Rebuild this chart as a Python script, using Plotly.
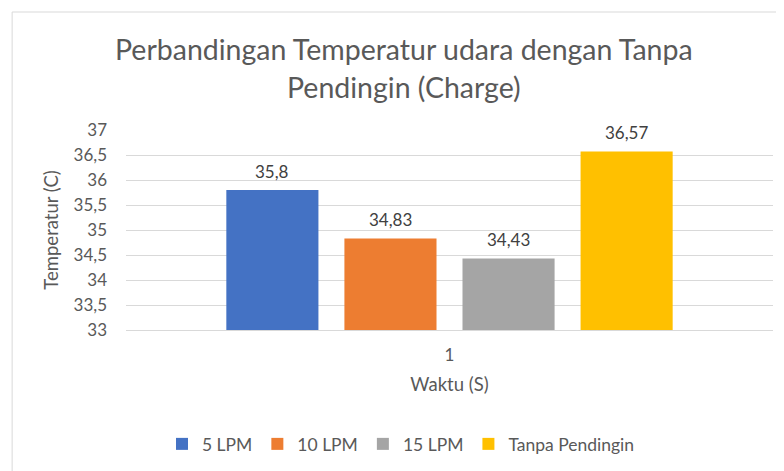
import plotly.graph_objects as go

categories = ["1"]
series_names = ["5 LPM", "10 LPM", "15 LPM", "Tanpa Pendingin"]
series_values = [35.8, 34.83, 34.43, 36.57]
series_colors = ["#4472C4", "#ED7D31", "#A5A5A5", "#FFC000"]
y_tickvals = [33, 33.5, 34, 34.5, 35, 35.5, 36, 36.5, 37]
y_ticktext = ["33", "33,5", "34", "34,5", "35", "35,5", "36", "36,5", "37"]
title_lines = ["Perbandingan Temperatur udara dengan Tanpa", "Pendingin (Charge)"]
x_title = "Waktu (S)"
y_title = "Temperatur (C)"

FONT = "Lato"
GREY = "#595959"
BASE = 33
BARGAP = 0.27
BARGROUPGAP = 0.22

fig = go.Figure()
for name, val, col in zip(series_names, series_values, series_colors):
    fig.add_trace(go.Bar(
        name=name,
        x=categories,
        y=[val - BASE],
        base=BASE,
        marker=dict(color=col, line=dict(width=0)),
        hoverinfo="name+y",
    ))

# data labels positioned at each grouped bar's centre (derived from bargap)
n = len(series_values)
slot = (1 - BARGAP) / n
annotations = []
for i, val in enumerate(series_values):
    xc = -(1 - BARGAP) / 2 + (i + 0.5) * slot
    annotations.append(dict(
        x=xc, y=val, xref="x", yref="y", showarrow=False,
        text=f"{val:g}".replace(".", ","), yanchor="middle", yshift=19,
        font=dict(family=FONT, size=17, color="#404040"),
    ))

# title lines
for txt, yp in zip(title_lines, [1.405, 1.215]):
    annotations.append(dict(
        x=0.43, y=yp, xref="paper", yref="paper", showarrow=False,
        text=txt, xanchor="center", yanchor="middle",
        font=dict(family=FONT, size=28.5, color=GREY),
    ))

fig.update_layout(
    width=784, height=471,
    margin=dict(l=118, r=19, t=122, b=149),
    paper_bgcolor="white", plot_bgcolor="white",
    barmode="group", bargap=BARGAP, bargroupgap=BARGROUPGAP,
    font=dict(family=FONT, color=GREY),
    showlegend=True,
    legend=dict(
        orientation="h", x=0.425, xanchor="center", y=-0.57, yanchor="middle",
        font=dict(family=FONT, size=17.5, color=GREY),
        itemwidth=30, traceorder="normal",
    ),
    annotations=annotations,
    shapes=[dict(type="rect", xref="paper", yref="paper",
                 x0=-0.176, x1=1.2, y0=-1.0, y1=1.59,
                 line=dict(color="#D9D9D9", width=1), fillcolor="rgba(0,0,0,0)",
                 layer="below")],
)
fig.update_xaxes(
    range=[-0.5, 0.5],
    showgrid=False, showline=True, linecolor="#D9D9D9", linewidth=1,
    tickfont=dict(family=FONT, size=17, color=GREY),
    ticklabelstandoff=10,
    title=dict(text=x_title, font=dict(family=FONT, size=18.5, color=GREY), standoff=13),
    ticks="", fixedrange=True,
)
fig.update_yaxes(
    range=[33, 37], tickvals=y_tickvals, ticktext=y_ticktext,
    showgrid=True, gridcolor="#D9D9D9", gridwidth=1, zeroline=False, showline=False,
    tickfont=dict(family=FONT, size=17, color=GREY),
    ticklabelstandoff=18,
    title=dict(text=y_title, font=dict(family=FONT, size=18.5, color=GREY), standoff=10),
)

fig.write_html("out.html")
